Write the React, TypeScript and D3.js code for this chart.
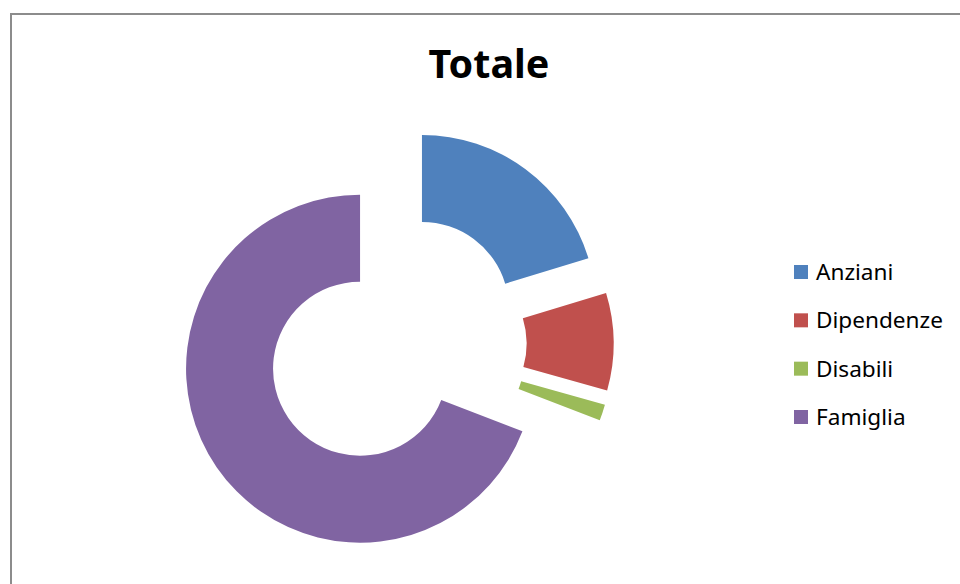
import React from "react";
import * as d3 from "d3";

const categories = ["Anziani", "Dipendenze", "Disabili", "Famiglia"];
const values = [20.3, 9.05, 1.5, 69.15];
const colors = ["#4F81BD", "#C0504D", "#9BBB59", "#8064A2"];
const title = "Totale";

export default function App() {
  const W = 960;
  const H = 584;
  const cx = 396;
  const cy = 344;
  const outerR = 174;
  const innerR = 87;
  const explode = 43.6;

  const pie = d3
    .pie<number>()
    .sort(null)
    .startAngle(0)
    .endAngle(2 * Math.PI)
    .value((d) => d);
  const arcs = pie(values);
  const arc = d3.arc<d3.PieArcDatum<number>>().innerRadius(innerR).outerRadius(outerR);

  const legendY = d3.scalePoint<string>().domain(categories).range([272, 417]);

  return (
    <svg
      width={W}
      height={H}
      style={{ position: "absolute", left: 0, top: 0, background: "#fff" }}
    >
      <rect x={0} y={0} width={W} height={H} fill="#fff" />
      <line x1={10} y1={14} x2={W + 5} y2={14} stroke="#8c8c8c" strokeWidth={2} />
      <line x1={11} y1={13} x2={11} y2={H + 5} stroke="#8c8c8c" strokeWidth={2} />
      <text
        x={489}
        y={78}
        textAnchor="middle"
        fontFamily="'Noto Sans', sans-serif"
        fontWeight="bold"
        fontSize={39.5}
        fill="#000"
      >
        {title}
      </text>
      <g transform={`translate(${cx},${cy})`}>
        {arcs.map((a, i) => {
          const mid = (a.startAngle + a.endAngle) / 2;
          const dx = Math.sin(mid) * explode;
          const dy = -Math.cos(mid) * explode;
          return (
            <path
              key={categories[i]}
              d={arc(a) || ""}
              fill={colors[i]}
              transform={`translate(${dx},${dy})`}
            />
          );
        })}
      </g>
      <g>
        {categories.map((c, i) => {
          const y = legendY(c) as number;
          return (
            <g key={c}>
              <rect x={794} y={y - 7} width={14} height={14} fill={colors[i]} />
              <text
                x={816}
                y={y}
                dy="0.35em"
                fontFamily="'Noto Sans', sans-serif"
                fontSize={22.6}
                fill="#000"
              >
                {c}
              </text>
            </g>
          );
        })}
      </g>
    </svg>
  );
}
